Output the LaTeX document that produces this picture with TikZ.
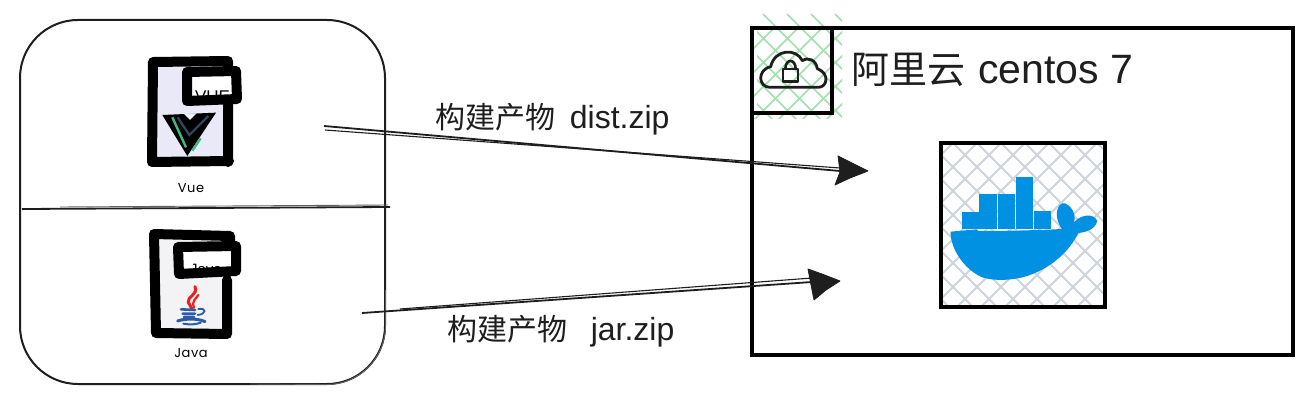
\documentclass[tikz,border=0pt]{standalone}
\usepackage{fontspec}
\setmainfont{Liberation Sans}
\newfontfamily\cjk{Noto Sans CJK SC}
\newfontfamily\handf[LetterSpace=4]{Poppins}
\definecolor{inkc}{HTML}{1E1E1E}
\definecolor{dockerblue}{HTML}{0091E2}
\definecolor{hatchgreen}{HTML}{A0E0AE}
\definecolor{hatchgray}{HTML}{CED4DB}
\definecolor{vuefill}{HTML}{E9E9F8}
\definecolor{javafill}{HTML}{F3F2F5}
\tikzset{
  boxnode/.style={draw=black,line width=3.6pt,outer sep=0pt,inner sep=0pt,anchor=north west,fill=none},
  sketch/.style={draw=inkc,line width=1.8pt},
  sketchthin/.style={draw=inkc!70,line width=.9pt},
  headtip/.style={fill=inkc,draw=inkc,line width=.8pt,line join=round},
  docline/.style={draw=black,line width=10pt,line join=round,line cap=round},
  lab/.style={inner sep=0pt,outer sep=0pt,anchor=base west,text=inkc},
  hatchg/.style={draw=hatchgreen,line width=1.6pt},
  hatchk/.style={draw=hatchgray,line width=1.8pt},
}
\begin{document}
\begin{tikzpicture}[x=1pt,y=-1pt]
\useasboundingbox (0,0) rectangle (1311,404);
\fill[white] (0,0) rectangle (1311,404);

% left group
\node[draw=inkc,line width=2pt,rounded corners=58pt,minimum width=365pt,minimum height=364pt,anchor=north west,outer sep=0pt,inner sep=0pt] (group) at (20,20) {};
\draw[sketchthin] (385.5,290) -- (385.5,326) .. controls (385.5,358) and (359,384.5) .. (327,384.5) -- (250,384);
\coordinate (divl) at (22,209);
\coordinate (divr) at (390,207);
\draw[sketch] (divl) -- (divr);
\draw[sketchthin] (60,207) -- (388,205);

% Vue file icon
\fill[vuefill] (155,62) rectangle (226,160);
\draw[docline] (154,62) -- (228,61) (153,62) -- (152,162) -- (229,161) (228,104) -- (228,162) (228,61) -- (228,70);
\fill[white] (190,76) rectangle (234,96);
\begin{scope}
  \clip (192,78) rectangle (232,95);
  \node[lab,text=black,font=\fontsize{17}{17}\selectfont] (vuetag) at (195,102) {VUE};
\end{scope}
\draw[docline] (187,72) -- (236,71) -- (237,99) -- (187,101) -- cycle;
\begin{scope}[shift={(130,30)},x=.3333pt,y=-.3333pt]
  \fill[black,line join=round] (97,255) -- (258,248) -- (172,378) -- cycle;
  \fill[vuefill!70!white] (160,250) -- (200,250) -- (180,270) -- cycle;
  \draw[color={rgb,255:red,66;green,184;blue,131},line width=2.4pt] (127,262) -- (168,352);
  \draw[color={rgb,255:red,66;green,184;blue,131},line width=2.4pt] (187,362) -- (212,325);
  \draw[color={rgb,255:red,53;green,73;blue,94},line width=2.2pt] (143,262) -- (178,315) -- (235,258);
\end{scope}
\node[inner sep=0pt,text=black,font=\handf\fontsize{13}{13}\selectfont] (vuelab) at (191,188) {Vue};

% Java file icon
\fill[javafill] (158,238) rectangle (226,332);
\draw[docline] (154,234) -- (230,236) (154,234) -- (156,333) -- (227,334) (227,280) -- (227,334) (230,236) -- (230,244);
\fill[white] (180,250) rectangle (234,268);
\begin{scope}
  \clip (183,252) rectangle (231,267);
  \node[lab,text=black,font=\fontsize{15}{15}\selectfont] (javatag) at (190,274) {Java};
\end{scope}
\draw[docline] (178,247) -- (236,246) -- (236,271) -- (179,274) -- cycle;
\begin{scope}[shift={(130,215)},x=.3333pt,y=-.3333pt]
  \draw[color={rgb,255:red,232;green,32;blue,32},line width=3pt,line cap=round] (195,215) .. controls (205,240) and (170,245) .. (175,262) .. controls (178,272) and (185,275) .. (186,282);
  \draw[color={rgb,255:red,232;green,32;blue,32},line width=2.2pt,line cap=round] (205,240) .. controls (195,255) and (185,258) .. (192,278);
  \draw[color={rgb,255:red,42;green,92;blue,168},line width=2.6pt,line cap=round] (153,283) -- (195,285) (158,296) -- (195,296) (162,306) -- (192,306);
  \draw[color={rgb,255:red,42;green,92;blue,168},line width=1.8pt,line cap=round] (205,282) .. controls (232,278) and (228,298) .. (203,300);
  \draw[color={rgb,255:red,42;green,92;blue,168},line width=3pt,line cap=round] (143,318) .. controls (165,310) and (205,310) .. (225,320);
  \draw[color={rgb,255:red,42;green,92;blue,168},line width=2pt,line cap=round] (160,326) .. controls (180,330) and (200,328) .. (212,323);
\end{scope}
\node[inner sep=0pt,text=black,font=\handf\fontsize{13}{13}\selectfont] (javalab) at (191,353) {Java};

% hatching of cloud box
\begin{scope}
  \clip (757,14) rectangle (842,118);
  \foreach \i in {-6,...,6} {
    \draw[hatchg] ({763+\i*24},14) -- ++(110,110);
  }
\end{scope}
\begin{scope}
  \clip (752,28) rectangle (842,118);
  \foreach \i in {-6,...,6} {
    \draw[hatchg] ({860+\i*24},14) -- ++(-110,110);
  }
\end{scope}
% hatching of docker box
\begin{scope}
  \clip (943,145) rectangle (1103,305);
  \foreach \i in {-8,...,8} {
    \draw[hatchk] ({950+\i*24},140) -- ++(175,175);
    \draw[hatchk] ({1100+\i*24},140) -- ++(-175,175);
  }
\end{scope}

% server boxes
\node[boxnode,minimum width=541pt,minimum height=327pt] (server) at (752,28) {};
\node[boxnode,minimum width=80pt,minimum height=85pt] (cloudbox) at (752,28) {};
\node[boxnode,minimum width=164pt,minimum height=164pt] (dockerbox) at (941,143) {};

% cloud lock icon
\begin{scope}[shift={(740,10)},x=.3333pt,y=-.3333pt]
  \draw[inkc,line width=2.8pt,line join=round,line cap=round]
    (90,232) -- (235,232) .. controls (262,232) and (270,190) .. (232,176)
    .. controls (228,150) and (205,140) .. (187,152)
    .. controls (170,115) and (105,115) .. (92,170)
    .. controls (50,180) and (55,232) .. (90,232);
  \draw[inkc,line width=2.8pt,line join=round] (129,177) rectangle (174,215);
  \draw[inkc,line width=2.6pt] (136,177) .. controls (136,145) and (167,145) .. (167,177);
\end{scope}

% whale
\begin{scope}[shift={(930,135)},x=.3333pt,y=-.3333pt]
  \fill[dockerblue] (96,230) rectangle (147,282);
  \fill[dockerblue] (147,178) rectangle (200,282);
  \fill[dockerblue] (203,178) rectangle (255,282);
  \fill[dockerblue] (258,125) rectangle (310,282);
  \fill[dockerblue] (312,228) rectangle (364,282);
  \fill[dockerblue] (62,290) -- (140,283) -- (145,288) .. controls (220,288) and (320,286) .. (396,282)
    .. controls (368,245) and (382,200) .. (405,205)
    .. controls (430,215) and (438,245) .. (432,262)
    .. controls (450,240) and (490,232) .. (502,258)
    .. controls (495,285) and (465,292) .. (445,294)
    .. controls (420,345) and (370,395) .. (300,420)
    .. controls (260,435) and (200,440) .. (160,428)
    .. controls (110,410) and (60,345) .. (62,290) -- cycle;
\end{scope}

% connectors
\coordinate (a1s) at (324,126);
\coordinate (a1e) at (840,171);
\coordinate (a1t) at (868,171);
\coordinate (a2s) at (362,313);
\coordinate (a2e) at (812,282);
\coordinate (a2t) at (840,281);
\draw[sketch] (a1s) -- (a1e);
\draw[inkc,line width=1.1pt] (325,130) -- (840,168);
\draw[sketch] (a2s) -- (a2e);
\draw[inkc,line width=1.1pt] (400,309) -- (812,278);
\fill[headtip] (a1t) -- (852,163) -- (838,156) -- (840,172) -- (835,185) -- (850,178) -- cycle;
\fill[headtip] (a2t) -- (822,274) -- (808,269) -- (811,285) -- (814,300) -- (826,290) -- cycle;

% labels
\node[lab,font=\fontsize{32}{32}\selectfont] (t1) at (435,128) {{\cjk\fontsize{30}{30}\selectfont 构建产物}\hspace{6pt} dist.zip};
\node[lab,font=\fontsize{32}{32}\selectfont] (t2) at (447,340) {{\cjk\fontsize{30}{30}\selectfont 构建产物}\hspace{6pt}\ \ jar.zip};
\node[lab,font=\fontsize{41}{41}\selectfont] (t3) at (851,84) {{\cjk\fontsize{38}{38}\selectfont 阿里云}\hspace{2pt} centos 7};
\end{tikzpicture}
\end{document}
